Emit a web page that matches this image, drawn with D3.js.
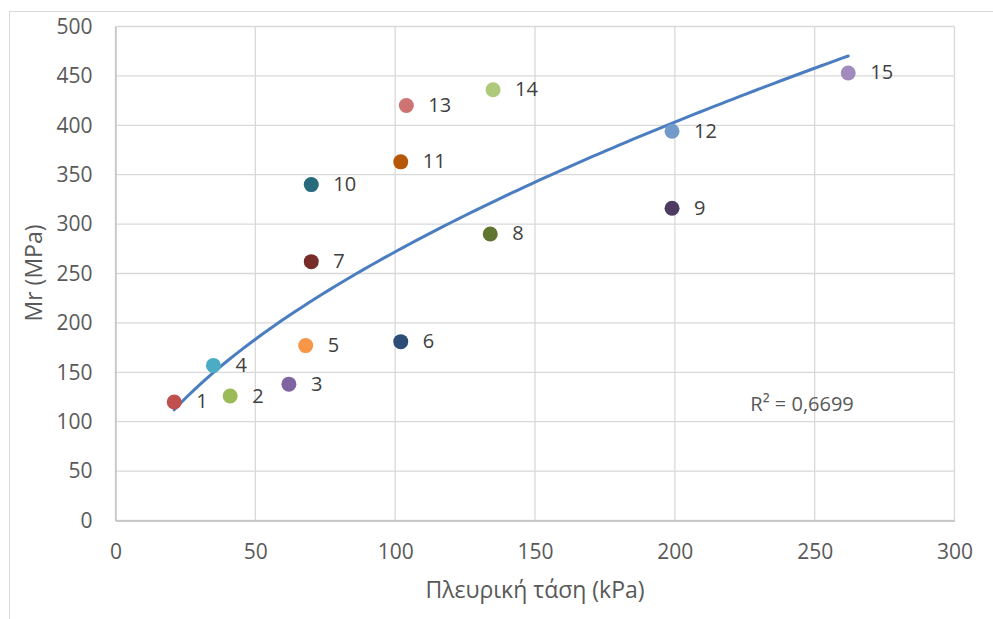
<!DOCTYPE html>
<html>
<head>
<meta charset="utf-8">
<script src="https://cdn.jsdelivr.net/npm/d3@7"></script>
<style>
  html, body { margin: 0; padding: 0; background: #fff; }
  svg { display: block; font-family: "Open Sans", "Noto Sans", sans-serif; }
</style>
</head>
<body>
<svg id="chart" width="993" height="619"></svg>
<script>
// Data
const pointLabels = ["1","2","3","4","5","6","7","8","9","10","11","12","13","14","15"];
const confiningStress = [21, 41, 62, 35, 68, 102, 70, 134, 199, 70, 102, 199, 104, 135, 262]; // kPa
const resilientModulus = [120, 126, 138, 157, 177, 181, 262, 290, 316, 340, 363, 394, 420, 436, 453]; // MPa
const pointColors = ["#C0504D","#9BBB59","#8064A2","#4BACC6","#F79646","#2C4D75","#772C2A",
                     "#5F7530","#4D3B62","#276A7C","#B65708","#729ACA","#CD7371","#AFC97A","#A18BBD"];
const xTicks = [0, 50, 100, 150, 200, 250, 300];
const yTicks = [0, 50, 100, 150, 200, 250, 300, 350, 400, 450, 500];
const xTitle = "Πλευρική τάση (kPa)";
const yTitle = "Mr (MPa)";
const r2Text = "R² = 0,6699";

const svg = d3.select("#chart");
const m = { left: 115.5, top: 26.5, right: 993 - 954.5, bottom: 619 - 520.5 };
const W = 993 - m.left - m.right, H = 619 - m.top - m.bottom;

// outer chart border
svg.append("rect").attr("x", 9.5).attr("y", 11.5).attr("width", 1200).attr("height", 1200)
  .attr("fill", "#fff").attr("stroke", "#d9d9d9").attr("stroke-width", 1);

const x = d3.scaleLinear().domain([0, 300]).range([0, W]);
const y = d3.scaleLinear().domain([0, 500]).range([H, 0]);

const g = svg.append("g").attr("transform", `translate(${m.left},${m.top})`);

// gridlines
g.append("g").selectAll("line").data(yTicks).join("line")
  .attr("x1", 0).attr("x2", W).attr("y1", d => y(d)).attr("y2", d => y(d))
  .attr("stroke", "#d9d9d9").attr("stroke-width", 1.3);
g.append("g").selectAll("line").data(xTicks).join("line")
  .attr("y1", 0).attr("y2", H).attr("x1", d => x(d)).attr("x2", d => x(d))
  .attr("stroke", "#d9d9d9").attr("stroke-width", 1.3);

// axes
const xAxis = g.append("g").attr("transform", `translate(0,${H})`)
  .call(d3.axisBottom(x).tickValues(xTicks).tickSize(0).tickPadding(24));
const yAxis = g.append("g")
  .call(d3.axisLeft(y).tickValues(yTicks).tickSize(0).tickPadding(23));
[xAxis, yAxis].forEach(a => {
  a.select(".domain").attr("stroke", "#bfbfbf").attr("stroke-width", 1.3);
  a.selectAll("text").attr("fill", "#595959").style("font-size", "21px")
    .style("font-family", "'Open Sans', sans-serif");
});

// power trendline (least squares on ln-ln, as Excel does)
const lx = confiningStress.map(Math.log), ly = resilientModulus.map(Math.log);
const mx = d3.mean(lx), my = d3.mean(ly);
const b = d3.sum(lx, (v, i) => (v - mx) * (ly[i] - my)) / d3.sum(lx, v => (v - mx) ** 2);
const a = Math.exp(my - b * mx);
const [xmin, xmax] = d3.extent(confiningStress);
const trend = d3.range(0, 101).map(i => {
  const xv = xmin + (xmax - xmin) * i / 100;
  return [xv, a * Math.pow(xv, b)];
});
g.append("path").datum(trend)
  .attr("d", d3.line().x(d => x(d[0])).y(d => y(d[1])))
  .attr("fill", "none").attr("stroke", "#4A7EC1").attr("stroke-width", 3)
  .attr("stroke-linecap", "round");

// points
const pts = pointLabels.map((l, i) => ({ l, x: confiningStress[i], y: resilientModulus[i], c: pointColors[i] }));
g.append("g").selectAll("circle").data(pts).join("circle")
  .attr("cx", d => x(d.x)).attr("cy", d => y(d.y)).attr("r", 7.5).attr("fill", d => d.c);

// data labels
g.append("g").selectAll("text").data(pts).join("text")
  .attr("x", d => x(d.x) + 22).attr("y", d => y(d.y) - 0.5)
  .attr("dy", "0.35em").attr("fill", "#404040").style("font-size", "20px")
  .text(d => d.l);

// R² label
g.append("text").attr("x", x(227)).attr("y", y(118)).attr("dy", "0.35em")
  .attr("fill", "#595959").style("font-size", "20px").text(r2Text);

// axis titles
svg.append("text").attr("x", m.left + W / 2).attr("y", 598)
  .attr("text-anchor", "middle").attr("fill", "#595959").style("font-size", "23px").text(xTitle);
svg.append("text").attr("transform", `translate(42,273) rotate(-90)`)
  .attr("text-anchor", "middle").attr("fill", "#595959").style("font-size", "23px").text(yTitle);
</script>
</body>
</html>
